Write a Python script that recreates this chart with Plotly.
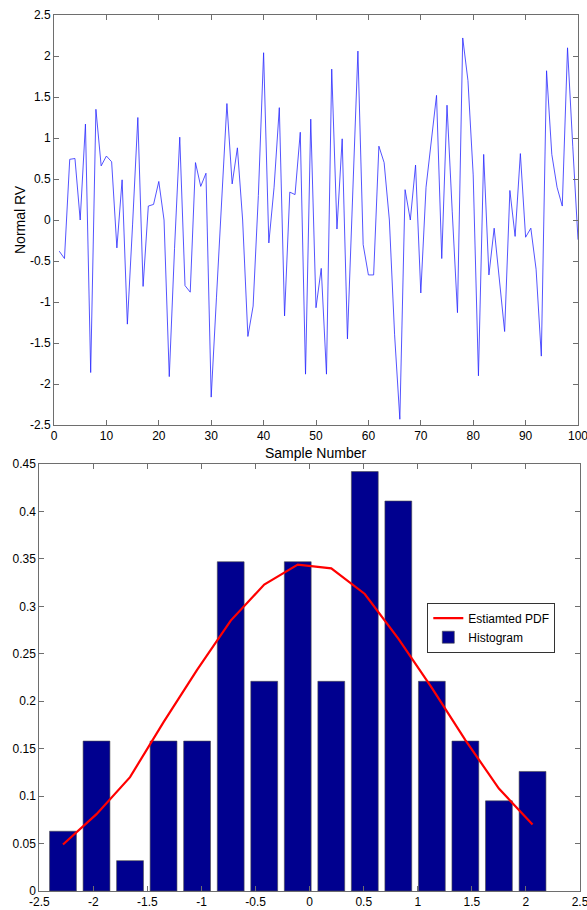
import plotly.graph_objects as go

# ---- data -------------------------------------------------------------
sample_number = list(range(1, 101))
normal_rv = [
    -0.38, -0.47, 0.74, 0.75, 0.00, 1.17, -1.86, 1.35, 0.66, 0.78,
    0.71, -0.34, 0.49, -1.27, -0.05, 1.25, -0.81, 0.17, 0.19, 0.47,
    0.00, -1.91, -0.35, 1.01, -0.80, -0.88, 0.70, 0.41, 0.57, -2.16,
    -0.95, 0.25, 1.42, 0.44, 0.88, 0.00, -1.42, -1.05, 0.30, 2.04,
    -0.28, 0.40, 1.37, -1.17, 0.34, 0.31, 1.07, -1.88, 1.23, -1.07,
    -0.59, -1.88, 1.84, -0.11, 0.99, -1.45, 0.35, 2.06, -0.30, -0.67,
    -0.67, 0.90, 0.70, 0.00, -1.40, -2.43, 0.37, 0.00, 0.67, -0.89,
    0.40, 0.95, 1.52, -0.47, 1.40, 0.10, -1.13, 2.22, 1.70, 0.55,
    -1.90, 0.80, -0.67, -0.10, -0.75, -1.36, 0.36, -0.20, 0.81, -0.21,
    -0.10, -0.60, -1.66, 1.82, 0.80, 0.40, 0.17, 2.10, 0.90, -0.24,
]

bin_centers = [-2.281, -1.971, -1.661, -1.351, -1.041, -0.730, -0.420, -0.110,
               0.200, 0.510, 0.820, 1.130, 1.440, 1.750, 2.061]
hist_density = [0.063, 0.158, 0.032, 0.158, 0.158, 0.347, 0.221, 0.347,
                0.221, 0.442, 0.411, 0.221, 0.158, 0.095, 0.126]
pdf_estimate = [0.049, 0.081, 0.120, 0.178, 0.233, 0.285, 0.323, 0.344,
                0.340, 0.313, 0.266, 0.214, 0.159, 0.108, 0.070]

top_x_ticks = list(range(0, 101, 10))
top_y_ticks = [-2.5, -2, -1.5, -1, -0.5, 0, 0.5, 1, 1.5, 2, 2.5]
top_y_labels = ["-2.5", "-2", "-1.5", "-1", "-0.5", "0", "0.5", "1", "1.5", "2", "2.5"]
bot_x_ticks = [-2.5, -2, -1.5, -1, -0.5, 0, 0.5, 1, 1.5, 2, 2.5]
bot_x_labels = ["-2.5", "-2", "-1.5", "-1", "-0.5", "0", "0.5", "1", "1.5", "2", "2.5"]
bot_y_ticks = [0, 0.05, 0.1, 0.15, 0.2, 0.25, 0.3, 0.35, 0.4, 0.45]
bot_y_labels = ["0", "0.05", "0.1", "0.15", "0.2", "0.25", "0.3", "0.35", "0.4", "0.45"]

# ---- figure -----------------------------------------------------------
W, H = 587, 910
FONT = "Liberation Sans, Arial, sans-serif"
AX = "#6e6e6e"

fig = go.Figure()

fig.add_trace(go.Scatter(
    x=sample_number, y=normal_rv, mode="lines",
    line=dict(color="rgb(40,40,255)", width=0.8),
    xaxis="x", yaxis="y", showlegend=False,
))

fig.add_trace(go.Bar(
    x=bin_centers, y=hist_density, name="Histogram",
    marker=dict(color="#00008F", line=dict(color="#4a4a4a", width=0.6)),
    xaxis="x2", yaxis="y2", legendrank=2,
))

fig.add_trace(go.Scatter(
    x=bin_centers, y=pdf_estimate, mode="lines", name="Estiamted PDF",
    line=dict(color="#FF0000", width=2.2),
    xaxis="x2", yaxis="y2", legendrank=1,
))


def px_x(p):
    return p / W


def px_y(p):
    return 1 - p / H


axis_common = dict(
    showline=True, linecolor=AX, linewidth=1, mirror="ticks",
    ticks="inside", ticklen=5, tickwidth=1, tickcolor=AX,
    showgrid=False, zeroline=False, automargin=False,
    ticklabeloverflow="allow",
    tickfont=dict(family=FONT, size=12, color="black"),
    fixedrange=True,
)

fig.update_layout(
    width=W, height=H,
    margin=dict(l=0, r=0, t=0, b=0),
    paper_bgcolor="white", plot_bgcolor="white",
    bargap=0.2,
    xaxis=dict(domain=[px_x(54), px_x(578)], anchor="y", range=[0, 100],
               tickmode="array", tickvals=top_x_ticks, **axis_common),
    yaxis=dict(domain=[px_y(425), px_y(15)], anchor="x", range=[-2.5, 2.5],
               tickmode="array", tickvals=top_y_ticks, ticktext=top_y_labels,
               **axis_common),
    xaxis2=dict(domain=[px_x(39.3), px_x(580)], anchor="y2", range=[-2.5, 2.5],
                tickmode="array", tickvals=bot_x_ticks, ticktext=bot_x_labels,
                **axis_common),
    yaxis2=dict(domain=[px_y(891), px_y(464)], anchor="x2", range=[0, 0.45],
                tickmode="array", tickvals=bot_y_ticks, ticktext=bot_y_labels,
                **axis_common),
    legend=dict(
        x=px_x(427.3), y=px_y(602.7), xanchor="left", yanchor="top",
        bgcolor="white", bordercolor="#333", borderwidth=1,
        font=dict(family=FONT, size=12, color="black"),
        tracegroupgap=0,
    ),
    showlegend=True,
)

title_font = dict(family=FONT, size=14, color="black")
fig.add_annotation(text="Sample Number", xref="paper", yref="paper",
                   x=px_x(315.5), y=px_y(453), xanchor="center", yanchor="middle",
                   showarrow=False, font=title_font)
fig.add_annotation(text="Normal RV", xref="paper", yref="paper",
                   x=px_x(20), y=px_y(220), xanchor="center", yanchor="middle",
                   textangle=-90, showarrow=False, font=title_font)
fig.add_annotation(text="y", xref="paper", yref="paper",
                   x=px_x(309.8), y=px_y(914), xanchor="center", yanchor="middle",
                   showarrow=False, font=title_font)

fig.write_html("out.html", config={"displayModeBar": False})
